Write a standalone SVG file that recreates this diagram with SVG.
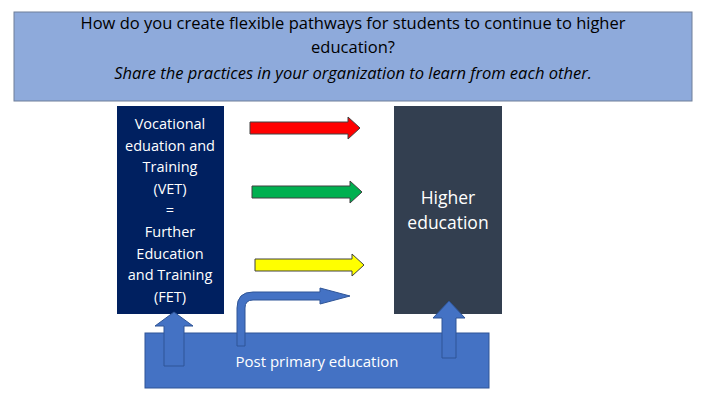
<svg xmlns="http://www.w3.org/2000/svg" width="720" height="405" viewBox="0 0 720 405">
<style>
text{font-family:"Open Sans","Liberation Sans",sans-serif;text-anchor:middle}
.w{fill:#fff}
.arr{stroke:#404040;stroke-width:1}
.up{fill:#4472c4;stroke:#2f5597;stroke-width:1}
</style>
<rect width="720" height="405" fill="#fff"/>
<g id="title">
<rect x="14" y="12" width="678" height="89" fill="#8eaadb" stroke="#6f7f99" stroke-width="1"/>
<text x="353" y="29" font-size="16.5">How do you create flexible pathways for students to continue to higher</text>
<text x="353" y="53" font-size="16.5">education?</text>
<text x="353" y="79" font-size="16.5" font-style="italic">Share the practices in your organization to learn from each other.</text>
</g>
<g id="vet">
<rect x="117" y="106" width="107" height="208" fill="#002060"/>
<text class="w" font-size="14.5"><tspan x="170" y="129">Vocational</tspan><tspan x="170" y="151">eduation and</tspan><tspan x="170" y="172">Training</tspan><tspan x="170" y="194">(VET)</tspan><tspan x="170" y="215">=</tspan><tspan x="170" y="237">Further</tspan><tspan x="170" y="259">Education</tspan><tspan x="170" y="280">and Training</tspan><tspan x="170" y="302">(FET)</tspan></text>
</g>
<g id="higher">
<rect x="394" y="106" width="108" height="208" fill="#333f50"/>
<text class="w" font-size="17.5"><tspan x="448" y="204">Higher</tspan><tspan x="448" y="229">education</tspan></text>
</g>
<g id="post">
<rect x="145" y="333" width="344" height="55" fill="#4472c4" stroke="#2f5597"/>
<text class="w" x="317" y="367" font-size="15">Post primary education</text>
</g>
<g id="connectors">
<polygon class="arr" fill="#ff0000" points="250,122 348,122 348,117 360,128 348,139 348,134 250,134"/>
<polygon class="arr" fill="#00b050" points="252,186 350,186 350,181 362,192 350,203 350,198 252,198"/>
<polygon class="arr" fill="#ffff00" points="255,259 352,259 352,254 364,265 352,276 352,271 255,271"/>
<polygon class="up" points="164,366 164,326 155,326 174,312 193,326 184,326 184,366"/>
<polygon class="up" points="442,358 442,318 433,318 449,301 465,318 456,318 456,358"/>
<path class="up" d="M237,346 L237,308 Q237,292 253,292 L320,292 L320,288 L350,296 L320,304 L320,300 L253,300 Q245,300 245,308 L245,346 Z"/>
</g>
</svg>
